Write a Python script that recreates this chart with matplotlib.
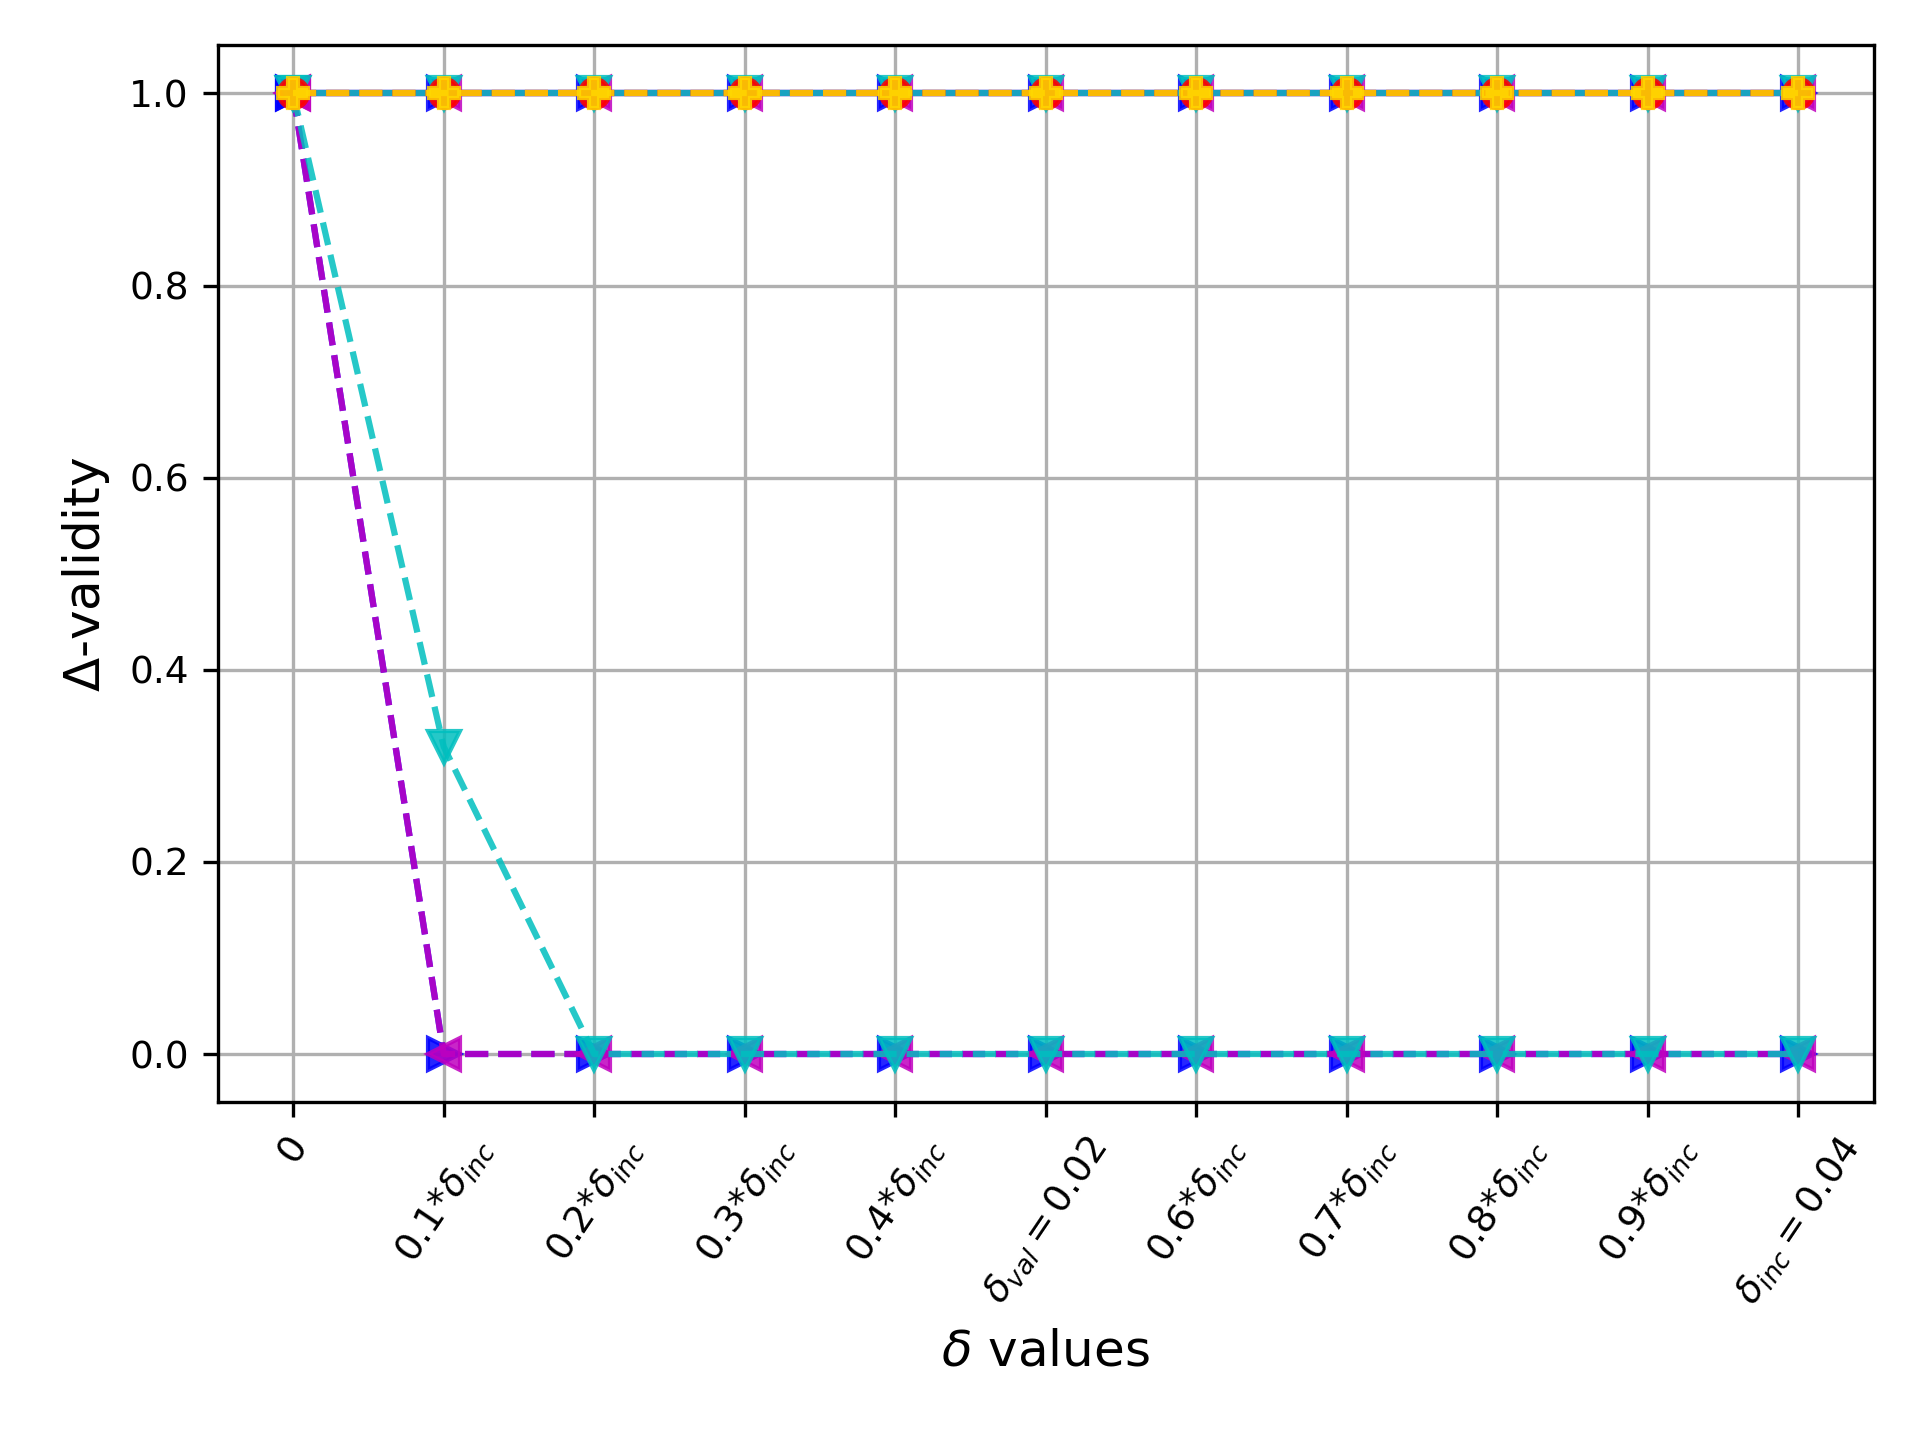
import matplotlib
matplotlib.use("Agg")
import matplotlib.pyplot as plt
import numpy as np

x_labels = ['$0$', r'0.1*$\delta_{inc}$', r'0.2*$\delta_{inc}$', r'0.3*$\delta_{inc}$',
            r'0.4*$\delta_{inc}$', r'$\delta_{val}=0.02$', r'0.6*$\delta_{inc}$',
            r'0.7*$\delta_{inc}$', r'0.8*$\delta_{inc}$', r'0.9*$\delta_{inc}$',
            r'$\delta_{inc}=0.04$']
x = list(range(len(x_labels)))

# series that drop
drop_blue = [1, 0, 0, 0, 0, 0, 0, 0, 0, 0, 0]
drop_magenta = [1, 0, 0, 0, 0, 0, 0, 0, 0, 0, 0]
drop_cyan = [1, 0.32, 0, 0, 0, 0, 0, 0, 0, 0, 0]
# series that stay at 1
top_blue = [1, 1, 1, 1, 1, 1, 1, 1, 1, 1, 1]
top_magenta = [1, 1, 1, 1, 1, 1, 1, 1, 1, 1, 1]
top_cyan = [1, 1, 1, 1, 1, 1, 1, 1, 1, 1, 1]
top_red = [1, 1, 1, 1, 1, 1, 1, 1, 1, 1, 1]
top_gold = [1, 1, 1, 1, 1, 1, 1, 1, 1, 1, 1]

fig, ax = plt.subplots(figsize=(6.4, 4.8), dpi=300)
fig.subplots_adjust(left=0.1135, right=0.9758, top=0.9685, bottom=0.2347)
a = 0.85
ms = 7.5
ax.plot(x, top_blue, '>', ls='-', color='b', alpha=a, ms=ms)
ax.plot(x, top_magenta, '<', ls='-', color='m', alpha=a, ms=ms)
ax.plot(x, top_cyan, 'v', ls='-', color='c', alpha=a, ms=ms)
ax.plot(x, drop_blue, '>', ls='--', color='b', alpha=a, ms=ms)
ax.plot(x, drop_magenta, '<', ls='--', color='m', alpha=a, ms=ms)
ax.plot(x, drop_cyan, 'v', ls='--', color='c', alpha=a, ms=ms)
ax.plot(x, top_red, 'o', ls='--', color='red', alpha=a, ms=7)
ax.plot(x, top_gold, 'P', ls='--', color='gold', alpha=a, ms=7)

ax.set_xticks(x)
ax.set_xticklabels(x_labels, rotation=56, fontsize=9)
ax.tick_params(axis='y', labelsize=9)
ax.set_xlabel(r'$\delta$ values', fontsize=12)
ax.set_ylabel(r'$\Delta$-validity', fontsize=12)
ax.grid(True)
fig.savefig('out.png', dpi=300)
